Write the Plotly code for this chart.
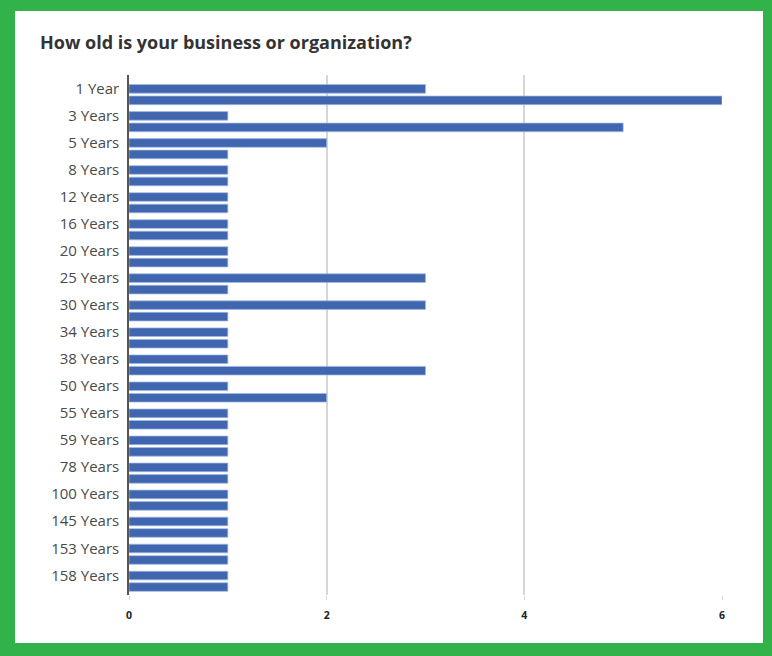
import plotly.graph_objects as go

# Survey answers: business age, two responses per age bucket
categories = [
    "1 Year", "3 Years", "5 Years", "8 Years", "12 Years", "16 Years",
    "20 Years", "25 Years", "30 Years", "34 Years", "38 Years", "50 Years",
    "55 Years", "59 Years", "78 Years", "100 Years", "145 Years", "153 Years",
    "158 Years",
]
first_counts = [3, 1, 2, 1, 1, 1, 1, 3, 3, 1, 1, 1, 1, 1, 1, 1, 1, 1, 1]
second_counts = [6, 5, 1, 1, 1, 1, 1, 1, 1, 1, 3, 2, 1, 1, 1, 1, 1, 1, 1]
x_ticks = [0, 2, 4, 6]

W, H = 772, 656
L, R, T, B = 129, 50, 75, 61
pw, ph = W - L - R, H - T - B

def px_to_paper_x(px):
    return (px - L) / pw

def px_to_paper_y(py):
    return (H - B - py) / ph

bar_style = dict(color="#4166B0", line=dict(color="rgba(160,185,228,0.9)", width=0.8))

fig = go.Figure()
for vals in (first_counts, second_counts):
    fig.add_trace(
        go.Bar(
            y=categories,
            x=vals,
            orientation="h",
            marker=bar_style,
            hoverinfo="x+y",
        )
    )

fig.update_layout(
    width=W,
    height=H,
    margin=dict(l=L, r=R, t=T, b=B),
    paper_bgcolor="#32B34A",
    plot_bgcolor="white",
    barmode="group",
    bargap=0.15,
    bargroupgap=0.25,
    showlegend=False,
    title=dict(
        text="<b>How old is your business or organization?</b>",
        xref="container", yref="container",
        x=40 / W, xanchor="left",
        y=1 - 43 / H, yanchor="middle",
        font=dict(family="Open Sans", size=18, color="#333333"),
    ),
    shapes=[
        dict(
            type="rect", xref="paper", yref="paper", layer="below",
            x0=px_to_paper_x(15), x1=px_to_paper_x(763),
            y0=px_to_paper_y(643), y1=px_to_paper_y(11),
            fillcolor="white", line=dict(width=0),
        )
    ],
)

fig.update_xaxes(
    range=[0, 6],
    tickvals=x_ticks,
    ticktext=[f"<b>{v}</b>" for v in x_ticks],
    showgrid=True,
    gridcolor="#d6d6d6",
    gridwidth=1.5,
    zeroline=False,
    ticks="outside",
    ticklen=4,
    tickcolor="#d6d6d6",
    ticklabelstandoff=6,
    tickfont=dict(family="Open Sans", size=10.5, color="#222222"),
)

fig.update_yaxes(
    categoryorder="array",
    categoryarray=categories,
    range=[18.507, -0.725],
    showgrid=False,
    showline=True,
    linecolor="#555555",
    linewidth=1.5,
    ticks="",
    ticklabelstandoff=5,
    ticklabelshift=6,
    tickfont=dict(family="Open Sans", size=15, color="#4a4a4a"),
)

fig.write_html("out.html")
